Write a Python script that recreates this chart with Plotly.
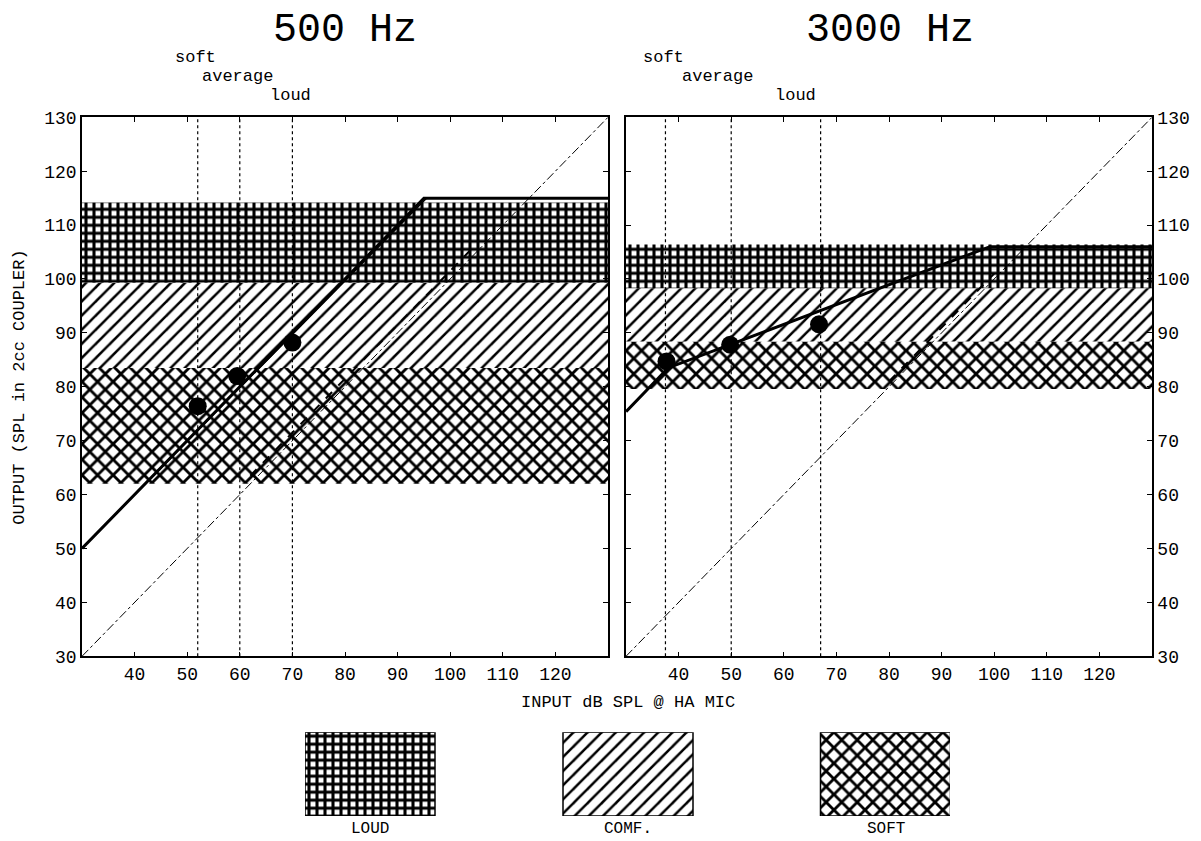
import plotly.graph_objects as go

# ---- data -------------------------------------------------------------
ticks_x = [40, 50, 60, 70, 80, 90, 100, 110, 120]
ticks_y = [30, 40, 50, 60, 70, 80, 90, 100, 110, 120, 130]

# speech input levels (soft / average / loud), dB SPL
levels_500 = [52, 60, 70]
levels_3000 = [37.5, 50, 67]

# target output bands (low, high) in dB SPL
bands_500 = {"SOFT": (62, 83.5), "COMF.": (83.5, 99.3), "LOUD": (99.3, 114.2)}
bands_3000 = {"SOFT": (79.6, 88.4), "COMF.": (88.4, 98.3), "LOUD": (98.3, 106.4)}

# measured points
pts_500_x = [52, 59.5, 70]
pts_500_y = [76.4, 82.0, 88.2]
pts_3000_x = [37.7, 49.8, 66.7]
pts_3000_y = [84.7, 87.8, 91.6]

# input/output curves
io_500_x = [30, 95, 130]
io_500_y = [50, 115, 115]
io_500b_x = [41, 95.5]
io_500b_y = [61, 115]
io_3000_x = [30, 38, 99.2, 130]
io_3000_y = [75.4, 83.5, 106, 106]

# reference segments along the unity line
ref_500_x = [62, 104]
ref_500_y = [63.5, 105.5]
ref_3000_x = [80, 100]
ref_3000_y = [81, 101]

patterns = {"LOUD": dict(shape="+", size=8, solidity=0.62),
            "COMF.": dict(shape="/", size=10, solidity=0.25),
            "SOFT": dict(shape="x", size=11, solidity=0.45)}
legend_order = ["LOUD", "COMF.", "SOFT"]

FONT = "Liberation Mono"
W, H = 1201, 841

fig = go.Figure()


def px_x(p):
    return p / W


def px_y(p):
    # vertical page position (pixels from top) -> paper fraction
    q = 387 + (p - 387) / 0.978
    return 1 - q / H


def add_panel(xa, ya, bands, levels, io_segments, ref, px, py):
    for name, (lo, hi) in bands.items():
        fig.add_trace(go.Bar(
            x=[80], y=[hi - lo], base=[lo], width=[100],
            xaxis=xa, yaxis=ya, showlegend=False, hoverinfo="skip",
            marker=dict(color="white", line=dict(width=0),
                        pattern=dict(fgcolor="black", bgcolor="white",
                                     fillmode="replace", **patterns[name]))))
    # unity line
    fig.add_trace(go.Scatter(x=[30, 130], y=[30, 130], mode="lines",
                             xaxis=xa, yaxis=ya, showlegend=False,
                             line=dict(color="black", width=1, dash="dashdot")))
    fig.add_trace(go.Scatter(x=ref[0], y=ref[1], mode="lines",
                             xaxis=xa, yaxis=ya, showlegend=False,
                             line=dict(color="black", width=2, dash="dash")))
    # input level markers
    for lv in levels:
        fig.add_trace(go.Scatter(x=[lv, lv], y=[30, 130], mode="lines",
                                 xaxis=xa, yaxis=ya, showlegend=False,
                                 line=dict(color="black", width=1.2, dash="dot")))
    for (sx, sy, w) in io_segments:
        fig.add_trace(go.Scatter(x=sx, y=sy, mode="lines",
                                 xaxis=xa, yaxis=ya, showlegend=False,
                                 line=dict(color="black", width=w)))
    fig.add_trace(go.Scatter(x=px, y=py, mode="markers",
                             xaxis=xa, yaxis=ya, showlegend=False,
                             marker=dict(color="black", size=18)))


add_panel("x", "y", bands_500, levels_500,
          [(io_500_x, io_500_y, 3), (io_500b_x, io_500b_y, 1.5)],
          (ref_500_x, ref_500_y), pts_500_x, pts_500_y)
add_panel("x2", "y2", bands_3000, levels_3000,
          [(io_3000_x, io_3000_y, 3)],
          (ref_3000_x, ref_3000_y), pts_3000_x, pts_3000_y)

# key boxes
key_centers = [65, 323, 580.5]
for name, cx in zip(legend_order, key_centers):
    fig.add_trace(go.Bar(
        x=[cx], y=[1], base=[0], width=[130], xaxis="x3", yaxis="y3",
        showlegend=False, hoverinfo="skip",
        marker=dict(color="white", line=dict(color="black", width=1.5),
                    pattern=dict(fgcolor="black", bgcolor="white",
                                 fillmode="replace", **patterns[name]))))

axis_common = dict(range=[30, 130], showgrid=False, zeroline=False,
                   showline=True, linecolor="black", linewidth=1.5,
                   mirror="ticks", ticks="inside", ticklen=5,
                   tickcolor="black", tickwidth=1,
                   tickfont=dict(family=FONT, size=18, color="black"))

fig.update_layout(
    width=W, height=H, autosize=False, margin=dict(l=0, r=0, t=0, b=0),
    paper_bgcolor="white", plot_bgcolor="white", barmode="overlay",
    font=dict(family=FONT, color="black"),
    xaxis=dict(domain=[px_x(82), px_x(608)], anchor="y",
               tickvals=ticks_x, **axis_common),
    yaxis=dict(domain=[px_y(657), px_y(117)], anchor="x",
               tickvals=ticks_y, **axis_common),
    xaxis2=dict(domain=[px_x(626), px_x(1152)], anchor="y2",
                tickvals=ticks_x, **axis_common),
    yaxis2=dict(domain=[px_y(657), px_y(117)], anchor="x2", side="right",
                tickvals=ticks_y, **axis_common),
    xaxis3=dict(domain=[px_x(305), px_x(950)], anchor="y3", range=[0, 645],
                visible=False),
    yaxis3=dict(domain=[px_y(817), px_y(733)], anchor="x3", range=[0, 1],
                visible=False),
)

ann = []


def text(x, y, s, size, **kw):
    ann.append(dict(x=px_x(x), y=px_y(y), xref="paper", yref="paper", text=s,
                    showarrow=False, xanchor=kw.get("xanchor", "center"),
                    yanchor="middle", textangle=kw.get("angle", 0),
                    font=dict(family=FONT, size=size, color="black")))


text(345, 30, "500 Hz", 40)
text(890, 30, "3000 Hz", 40)
for (x, y, s) in [(195, 57, "soft"), (237, 76, "average"), (290, 95, "loud"),
                  (663, 57, "soft"), (717, 76, "average"), (795, 95, "loud")]:
    text(x, y, s, 17)
text(628, 703, "INPUT dB SPL @ HA MIC", 17)
text(20, 388, "OUTPUT (SPL in 2cc COUPLER)", 17, angle=-90)
for name, x in zip(legend_order, [370, 628, 885.5]):
    text(x, 830, name, 16)

fig.update_layout(annotations=ann)
fig.write_html("out.html", config={"responsive": False})
